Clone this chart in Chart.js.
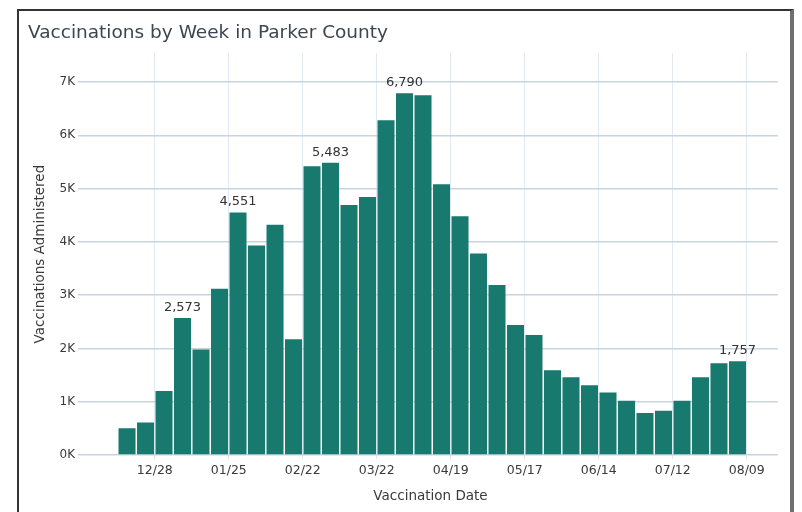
<!DOCTYPE html>
<html lang="en">
<head>
    <meta charset="UTF-8">
    <title>Vaccinations by Week in Parker County</title>
    <script src="https://cdn.jsdelivr.net/npm/chart.js"></script>
    <style>
        html, body {
            margin: 0;
            overflow: hidden;
            background-color: #fff;
        }
        #frame {
            position: absolute;
            left: 17px;
            top: 9px;
            width: 771px;
            height: 520px;
            border-left: 2px solid #333;
            border-top: 2px solid #333;
            border-right: 4px solid #6f6f6f;
        }
        #chart {
            position: absolute;
            left: 0;
            top: 0;
        }
    </style>
</head>
<body>
    <div id="frame"></div>
    <canvas id="chart" width="802" height="512"></canvas>

    <script>
        // weekly doses, one bar per week
        var doses = [500, 610, 1200, 2573, 1980, 3120, 4551, 3930, 4320, 2170,
                     5420, 5483, 4690, 4840, 6280, 6790, 6750, 5080, 4480, 3780,
                     3190, 2440, 2250, 1590, 1460, 1310, 1175, 1020, 790, 830,
                     1020, 1460, 1720, 1757];
        var tickLabels = ['12/28', '01/25', '02/22', '03/22', '04/19', '05/17', '06/14', '07/12', '08/09'];
        var tickWeeks = [2, 6, 10, 14, 18, 22, 26, 30, 34];   // week boundaries the dates sit on
        var yTicks = [0, 1000, 2000, 3000, 4000, 5000, 6000, 7000];
        var labelled = [3, 6, 11, 15, 33];                      // bars with their value written on top

        var textColor = '#3a3a3a';
        var font = 'DejaVu Sans';

        // value labels above a few bars
        var barLabels = {
            id: 'barLabels',
            afterDatasetsDraw: function(chart) {
                var ctx = chart.ctx;
                var meta = chart.getDatasetMeta(0);
                ctx.save();
                ctx.font = '13px "' + font + '"';
                ctx.fillStyle = '#333';
                ctx.textAlign = 'center';
                ctx.textBaseline = 'alphabetic';
                labelled.forEach(function(i) {
                    var bar = meta.data[i];
                    ctx.fillText(doses[i].toLocaleString('en-US'), bar.x, bar.y - 7);
                });
                ctx.restore();
            }
        };

        var points = doses.map(function(v, i) { return { x: i + 0.5, y: v }; });

        var ctx = document.getElementById('chart').getContext('2d');
        var myChart = new Chart(ctx, {
            type: 'bar',
            data: {
                datasets: [{
                    label: 'Vaccinations Administered',
                    data: points,
                    backgroundColor: '#187a6f',
                    borderWidth: 0,
                    categoryPercentage: 1,
                    barPercentage: 0.92
                }]
            },
            options: {
                responsive: false,
                animation: false,
                layout: { padding: { left: 28, right: 24, top: 10, bottom: 0 } },
                plugins: {
                    legend: { display: false },
                    tooltip: { enabled: false },
                    title: {
                        display: true,
                        text: 'Vaccinations by Week in Parker County',
                        align: 'start',
                        color: '#3c4651',
                        font: { family: font, size: 18.5, weight: 'normal' },
                        padding: { top: 12, bottom: 9 }
                    }
                },
                scales: {
                    x: {
                        type: 'linear',
                        min: -1.88,
                        max: 35.69,
                        offset: false,
                        afterBuildTicks: function(s) {
                            s.ticks = tickWeeks.map(function(v) { return { value: v }; });
                        },
                        afterFit: function(s) { s.height = 57; },
                        ticks: {
                            autoSkip: false,
                            maxRotation: 0,
                            padding: 4,
                            color: textColor,
                            font: { family: font, size: 12.5 },
                            callback: function(v, i) { return tickLabels[i]; }
                        },
                        grid: { color: '#dfe9f1', lineWidth: 1, tickLength: 4, offset: false },
                        border: { display: false },
                        title: {
                            display: true,
                            text: 'Vaccination Date',
                            color: textColor,
                            font: { family: font, size: 13.5 },
                            padding: { top: 0, bottom: 7 }
                        }
                    },
                    y: {
                        min: 0,
                        max: 7540,
                        afterBuildTicks: function(s) {
                            s.ticks = yTicks.map(function(v) { return { value: v }; });
                        },
                        afterFit: function(s) { s.width = 55; },
                        ticks: {
                            padding: 3,
                            color: textColor,
                            font: { family: font, size: 12 },
                            callback: function(v) { return (v / 1000) + 'K'; }
                        },
                        grid: { color: '#c8d5e0', lineWidth: 1.5, tickLength: 5 },
                        border: { display: false },
                        title: {
                            display: true,
                            text: 'Vaccinations Administered',
                            color: textColor,
                            font: { family: font, size: 13.5 },
                            padding: { top: 4, bottom: 0 }
                        }
                    }
                }
            },
            plugins: [barLabels]
        });
    </script>
</body>
</html>
